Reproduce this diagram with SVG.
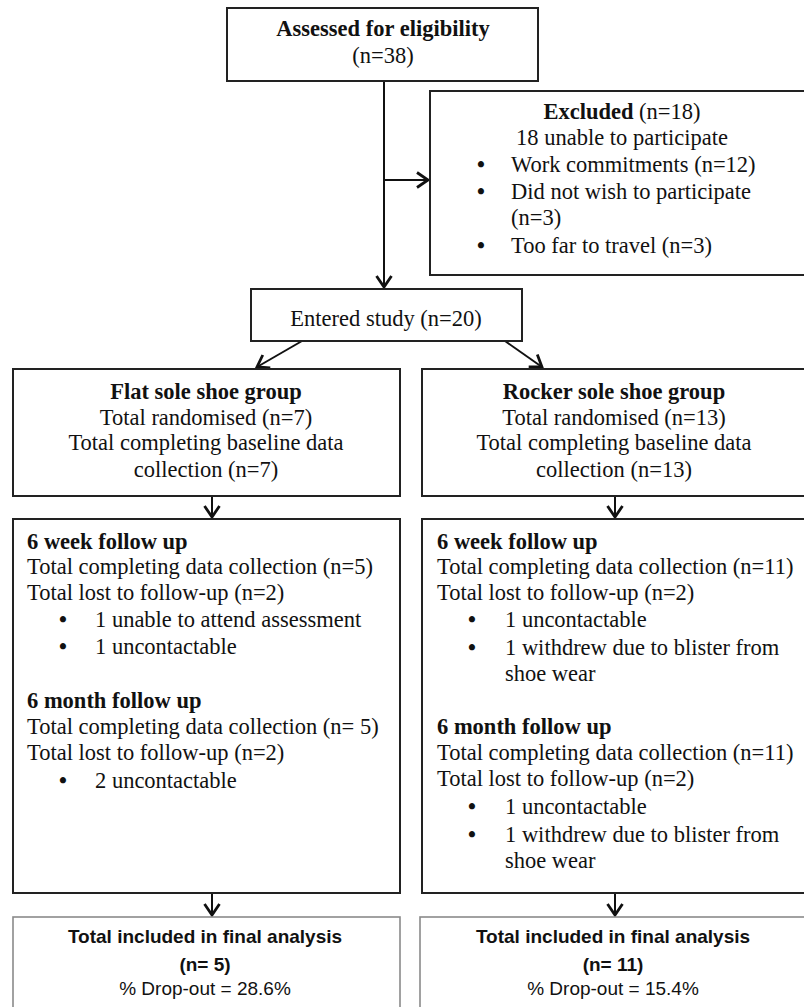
<svg xmlns="http://www.w3.org/2000/svg" width="804" height="1007" viewBox="0 0 804 1007">
<defs>
<style>
.box{fill:#fff;stroke:#222;stroke-width:2}
.fbox{fill:#fff;stroke:#8a8a8a;stroke-width:1.6}
.t{font-family:"Liberation Serif","Times New Roman",serif;font-size:22.5px;fill:#111}
.bu{font-family:"Liberation Serif","Times New Roman",serif;font-size:22.5px;font-weight:bold;fill:#111}
.b{font-weight:bold}
.c{text-anchor:middle}
.s{font-family:"Liberation Sans",Arial,sans-serif;font-size:19px;fill:#111;text-anchor:middle}
.ln{stroke:#111;stroke-width:2;fill:none}
</style>
<marker id="ah" markerUnits="userSpaceOnUse" markerWidth="20" markerHeight="20" refX="0" refY="0" viewBox="-12 -10 14 20" orient="auto" overflow="visible">
<path d="M-11,-7.5 L0,0 L-11,7.5" fill="none" stroke="#111" stroke-width="2.8" stroke-linejoin="miter"/>
</marker>
</defs>
<rect width="804" height="1007" fill="#fff"/>

<g id="connectors">
<line class="ln" x1="384" y1="81" x2="384" y2="287" marker-end="url(#ah)"/>
<line class="ln" x1="384" y1="180" x2="428" y2="180" marker-end="url(#ah)"/>
<line class="ln" x1="302" y1="341" x2="257" y2="367" marker-end="url(#ah)"/>
<line class="ln" x1="505" y1="341" x2="542" y2="367" marker-end="url(#ah)"/>
<line class="ln" x1="212" y1="496" x2="212" y2="517" marker-end="url(#ah)"/>
<line class="ln" x1="615" y1="496" x2="615" y2="517" marker-end="url(#ah)"/>
<line class="ln" x1="212" y1="893" x2="212" y2="915" marker-end="url(#ah)"/>
<line class="ln" x1="615" y1="893" x2="615" y2="915" marker-end="url(#ah)"/>
</g>

<g id="assessed">
<rect class="box" x="227" y="8" width="311" height="73"/>
<text class="t b c" x="383" y="36">Assessed for eligibility</text>
<text class="t c" x="383" y="63">(n=38)</text>
</g>

<g id="excluded">
<rect class="box" x="430" y="91" width="384" height="184"/>
<text class="t c" x="622" y="119"><tspan class="b">Excluded</tspan> (n=18)</text>
<text class="t c" x="622" y="145">18 unable to participate</text>
<text class="bu" x="477" y="172">•</text>
<text class="t" x="511" y="172">Work commitments (n=12)</text>
<text class="bu" x="477" y="199">•</text>
<text class="t" x="511" y="199">Did not wish to participate</text>
<text class="t" x="511" y="225">(n=3)</text>
<text class="bu" x="477" y="253">•</text>
<text class="t" x="511" y="253">Too far to travel (n=3)</text>
</g>

<g id="entered">
<rect class="box" x="251" y="289" width="271" height="52"/>
<text class="t c" x="386" y="326">Entered study (n=20)</text>
</g>

<g id="flat">
<rect class="box" x="13" y="369" width="387" height="127"/>
<text class="t b c" x="206" y="399">Flat sole shoe group</text>
<text class="t c" x="206" y="425">Total randomised (n=7)</text>
<text class="t c" x="206" y="450">Total completing baseline data</text>
<text class="t c" x="206" y="477">collection (n=7)</text>
</g>

<g id="rocker">
<rect class="box" x="422" y="369" width="392" height="127"/>
<text class="t b c" x="614" y="399">Rocker sole shoe group</text>
<text class="t c" x="614" y="425">Total randomised (n=13)</text>
<text class="t c" x="614" y="450">Total completing baseline data</text>
<text class="t c" x="614" y="477">collection (n=13)</text>
</g>

<g id="flat-followup">
<rect class="box" x="13" y="519" width="387" height="374"/>
<text class="t b" x="27" y="549">6 week follow up</text>
<text class="t" x="27" y="574">Total completing data collection (n=5)</text>
<text class="t" x="27" y="600">Total lost to follow-up (n=2)</text>
<text class="bu" x="59" y="627">•</text>
<text class="t" x="95" y="627">1 unable to attend assessment</text>
<text class="bu" x="59" y="654">•</text>
<text class="t" x="95" y="654">1 uncontactable</text>
<text class="t b" x="27" y="708">6 month follow up</text>
<text class="t" x="27" y="734">Total completing data collection (n= 5)</text>
<text class="t" x="27" y="760">Total lost to follow-up (n=2)</text>
<text class="bu" x="59" y="788">•</text>
<text class="t" x="95" y="788">2 uncontactable</text>
</g>

<g id="rocker-followup">
<rect class="box" x="422" y="519" width="392" height="374"/>
<text class="t b" x="437" y="549">6 week follow up</text>
<text class="t" x="437" y="574">Total completing data collection (n=11)</text>
<text class="t" x="437" y="600">Total lost to follow-up (n=2)</text>
<text class="bu" x="468" y="627">•</text>
<text class="t" x="505" y="627">1 uncontactable</text>
<text class="bu" x="468" y="655">•</text>
<text class="t" x="505" y="655">1 withdrew due to blister from</text>
<text class="t" x="505" y="681">shoe wear</text>
<text class="t b" x="437" y="734">6 month follow up</text>
<text class="t" x="437" y="760">Total completing data collection (n=11)</text>
<text class="t" x="437" y="786">Total lost to follow-up (n=2)</text>
<text class="bu" x="468" y="814">•</text>
<text class="t" x="505" y="814">1 uncontactable</text>
<text class="bu" x="468" y="842">•</text>
<text class="t" x="505" y="842">1 withdrew due to blister from</text>
<text class="t" x="505" y="868">shoe wear</text>
</g>

<g id="flat-final">
<rect class="fbox" x="13" y="917" width="387" height="100"/>
<text class="s b" x="205" y="943">Total included in final analysis</text>
<text class="s b" x="205" y="971">(n= 5)</text>
<text class="s" x="205" y="995">% Drop-out = 28.6%</text>
</g>

<g id="rocker-final">
<rect class="fbox" x="420" y="917" width="394" height="100"/>
<text class="s b" x="613" y="943">Total included in final analysis</text>
<text class="s b" x="613" y="971">(n= 11)</text>
<text class="s" x="613" y="995">% Drop-out = 15.4%</text>
</g>
</svg>
